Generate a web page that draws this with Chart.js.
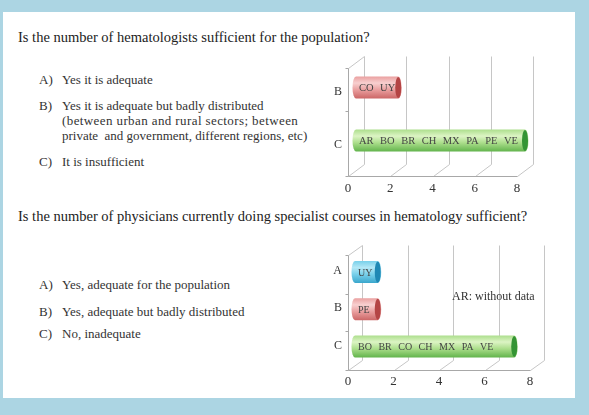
<!DOCTYPE html>
<html>
<head>
<meta charset="utf-8">
<script src="https://cdn.jsdelivr.net/npm/chart.js@4.4.0/dist/chart.umd.min.js"></script>
<style>
	html, body { margin: 0; padding: 0; }
	body { width: 589px; height: 415px; background: #acd5e3; position: relative; overflow: hidden; font-family: "Liberation Serif", "Times New Roman", serif; color: #333; }
	#panel { position: absolute; left: 3px; top: 12px; width: 572px; height: 386px; background: #fff; }
	.t { position: absolute; white-space: pre; line-height: 1; }
	.q { font-size: 14.5px; color: #222; }
	.o { font-size: 13px; color: #333; }
	canvas { position: absolute; }
</style>
</head>
<body>
<div id="panel"></div>

<div class="t q" style="left:18px; top:30px;">Is the number of hematologists sufficient for the population?</div>
<div class="t o" style="left:39px; top:73px;">A)</div>
<div class="t o" style="left:62px; top:73px;">Yes it is adequate</div>
<div class="t o" style="left:39px; top:99px;">B)</div>
<div class="t o" style="left:62px; top:99px;">Yes it is adequate but badly distributed</div>
<div class="t o" style="left:62px; top:114px; letter-spacing:0.4px;">(between urban and rural sectors; between</div>
<div class="t o" style="left:62px; top:129px;">private  and government, different regions, etc)</div>
<div class="t o" style="left:39px; top:155px;">C)</div>
<div class="t o" style="left:62px; top:155px;">It is insufficient</div>

<div class="t q" style="left:18px; top:208.5px;">Is the number of physicians currently doing specialist courses in hematology sufficient?</div>
<div class="t o" style="left:39px; top:278px;">A)</div>
<div class="t o" style="left:62px; top:278px;">Yes, adequate for the population</div>
<div class="t o" style="left:39px; top:305px;">B)</div>
<div class="t o" style="left:62px; top:305px;">Yes, adequate but badly distributed</div>
<div class="t o" style="left:39px; top:327px;">C)</div>
<div class="t o" style="left:62px; top:327px;">No, inadequate</div>

<canvas id="chart1" width="240" height="156" style="left:320px; top:44px;"></canvas>
<canvas id="chart2" width="240" height="162" style="left:320px; top:230px;"></canvas>

<div class="t" style="left:452px; top:290px; font-size:12px; color:#333;">AR: without data</div>

<script>
"use strict";

// hematologists sufficient?
var hemCategories = ["B", "C"];
var hemValues = [2, 8];
var hemCountries = [["CO", "UY"], ["AR", "BO", "BR", "CH", "MX", "PA", "PE", "VE"]];

// physicians in specialist courses sufficient?
var resCategories = ["A", "B", "C"];
var resValues = [1, 1, 7];
var resCountries = [["UY"], ["PE"], ["BO", "BR", "CO", "CH", "MX", "PA", "VE"]];

var xTicks = [0, 2, 4, 6, 8];

var barStyles = {
	A: { light: "#b4e8f6", mid: "#78d0ea", dark: "#3aa6cc", cap: "#1f88b4" },
	B: { light: "#f8d0d0", mid: "#eaa0a0", dark: "#cc6666", cap: "#b44444" },
	C: { light: "#dcf4c4", mid: "#acde8c", dark: "#62b44c", cap: "#349434" }
};

// back wall + floor lines of the 3d box
var box3d = {
	id: "box3d",
	beforeDatasetsDraw: function (chart, args, opts) {
		var ctx = chart.ctx, a = chart.chartArea, x = chart.scales.x, y = chart.scales.y;
		var dx = opts.dx, dy = opts.dy;
		var top = Math.round(a.top + opts.topDrop) + 0.5;
		var floor = Math.round(a.bottom + opts.floorDrop) + 0.5;
		var left = Math.round(a.left) + 0.5;
		ctx.save();
		ctx.lineWidth = 1;
		ctx.strokeStyle = "#c6c6c6";
		ctx.beginPath();
		xTicks.forEach(function (v) {
			var px = Math.round(x.getPixelForValue(v)) + 0.5;
			ctx.moveTo(px + dx, top + dy);
			ctx.lineTo(px + dx, floor + dy);
			ctx.moveTo(px, floor);
			ctx.lineTo(px + dx, floor + dy);
		});
		ctx.moveTo(left, top);
		ctx.lineTo(left + dx, top + dy);
		ctx.stroke();

		ctx.strokeStyle = "#a8a8a8";
		ctx.beginPath();
		ctx.moveTo(left, top);
		ctx.lineTo(left, floor);
		ctx.lineTo(Math.round(x.getPixelForValue(xTicks[xTicks.length - 1])) + 0.5, floor);
		var ys = [top, floor];
		for (var i = 1; i < chart.data.labels.length; i++) {
			ys.push(Math.round(y.getPixelForValue(i - 0.5) + opts.tickDy) + 0.5);
		}
		ys.forEach(function (py) {
			ctx.moveTo(left - 3, py);
			ctx.lineTo(left, py);
		});
		ctx.stroke();
		ctx.restore();
	}
};

// cylinder bars with country codes inside
var cylinders = {
	id: "cylinders",
	afterDatasetsDraw: function (chart, args, opts) {
		var ctx = chart.ctx, meta = chart.getDatasetMeta(0);
		ctx.save();
		meta.data.forEach(function (bar, i) {
			var col = barStyles[chart.data.labels[i]];
			var x0 = bar.base + opts.dx, x1 = bar.x + opts.dx, yc = bar.y + opts.dy;
			var r = bar.height / 2, rx = 3.5;

			var g = ctx.createLinearGradient(0, yc - r, 0, yc + r);
			g.addColorStop(0, col.mid);
			g.addColorStop(0.3, col.light);
			g.addColorStop(0.6, col.mid);
			g.addColorStop(1, col.dark);
			ctx.fillStyle = g;
			ctx.beginPath();
			ctx.moveTo(x0, yc - r);
			ctx.lineTo(x1, yc - r);
			ctx.ellipse(x1, yc, rx, r, 0, -Math.PI / 2, Math.PI / 2);
			ctx.lineTo(x0, yc + r);
			ctx.ellipse(x0, yc, rx, r, 0, Math.PI / 2, Math.PI * 1.5);
			ctx.closePath();
			ctx.fill();

			ctx.fillStyle = col.cap;
			ctx.beginPath();
			ctx.ellipse(x1, yc, rx - 0.5, r - 0.5, 0, 0, Math.PI * 2);
			ctx.fill();

			ctx.fillStyle = "#444";
			ctx.font = opts.fontSize + "px 'Liberation Serif', serif";
			ctx.textBaseline = "middle";
			var tx = x0 + 3;
			opts.countries[i].forEach(function (c) {
				ctx.fillText(c, tx, yc + 1);
				tx += ctx.measureText(c).width + opts.gap;
			});
		});
		ctx.restore();
	}
};

function makeChart(id, labels, values, countries, cfg) {
	return new Chart(document.getElementById(id), {
		type: "bar",
		data: {
			labels: labels,
			datasets: [{
				data: values,
				backgroundColor: "rgba(0,0,0,0)",
				borderWidth: 0,
				barThickness: 22
			}]
		},
		plugins: [box3d, cylinders],
		options: {
			indexAxis: "y",
			responsive: false,
			animation: false,
			layout: { padding: { top: cfg.padTop, right: cfg.padRight, left: 0, bottom: 0 } },
			scales: {
				x: {
					min: 0, max: 8,
					afterBuildTicks: function (s) { s.ticks = xTicks.map(function (v) { return { value: v }; }); },
					afterFit: function (s) { s.height = cfg.xHeight; },
					grid: { display: false, drawTicks: false },
					border: { display: false },
					ticks: { padding: cfg.xPad, color: "#333", font: { family: "'Liberation Serif', serif", size: 13 } }
				},
				y: {
					afterFit: function (s) { s.width = 28; },
					grid: { display: false, drawTicks: false },
					border: { display: false },
					ticks: { padding: 6, color: "#333", font: { family: "'Liberation Serif', serif", size: 12 } }
				}
			},
			plugins: {
				legend: { display: false },
				tooltip: { enabled: false },
				box3d: { dx: cfg.dx, dy: cfg.dy, topDrop: cfg.topDrop, floorDrop: cfg.floorDrop, tickDy: cfg.tickDy },
				cylinders: { dx: cfg.barDx, dy: cfg.barDy, countries: countries, fontSize: cfg.fontSize, gap: cfg.gap }
			}
		}
	});
}

// chart 1 - hematologists
makeChart("chart1", hemCategories, hemValues, hemCountries, {
	padTop: 21.5, padRight: 43, xHeight: 28.5, xPad: 9,
	dx: 16, dy: -12, topDrop: 2.5, floorDrop: 4.5, tickDy: -8,
	barDx: 8, barDy: -4.5, fontSize: 10.5, gap: 6.5
});

// chart 2 - physicians in training
makeChart("chart2", resCategories, resValues, resCountries, {
	padTop: 22.4, padRight: 30, xHeight: 28, xPad: 9.5,
	dx: 14, dy: -10, topDrop: 3, floorDrop: 6, tickDy: 4,
	barDx: 7, barDy: 1, fontSize: 10, gap: 6.5
});
</script>
</body>
</html>
